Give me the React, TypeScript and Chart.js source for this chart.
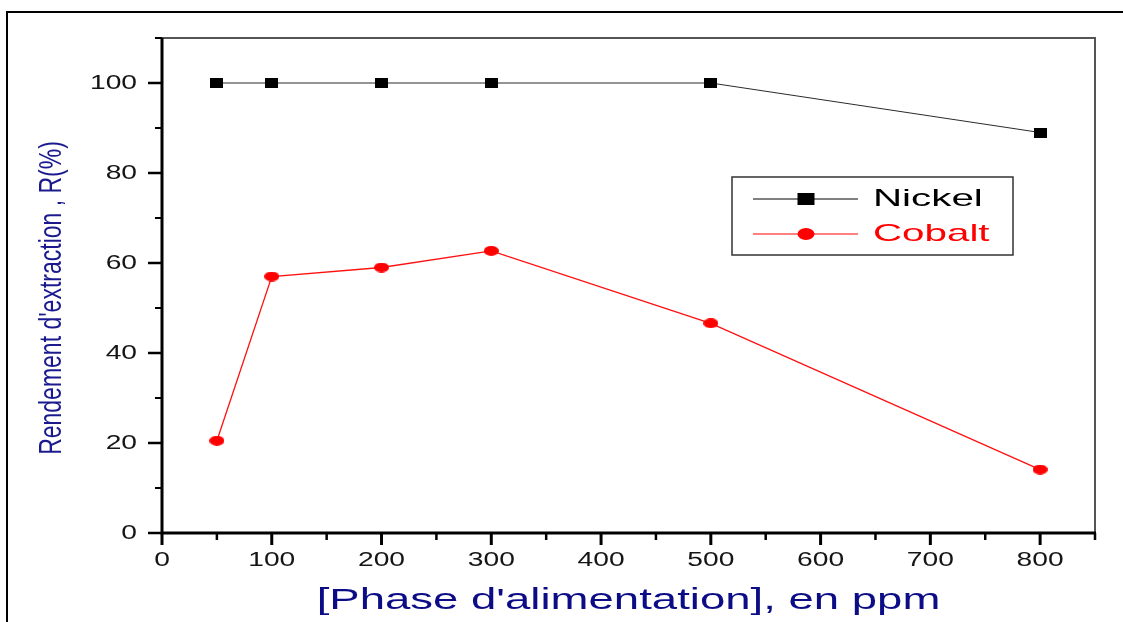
import React, { useEffect, useRef } from "react";
import { Chart, registerables } from "chart.js";

Chart.register(...registerables);

// Feed-phase concentration (ppm) and extraction yield (%) for each metal
const concentrations = [50, 100, 200, 300, 500, 800];
const nickelYield = [100, 100, 100, 100, 100, 89];
const cobaltYield = [20.5, 57, 59, 62.7, 46.6, 14.1];
const seriesNames = ["Nickel", "Cobalt"];
const seriesColors = ["#000000", "#ff0000"];

const xTitle = "[Phase d'alimentation], en ppm";
const yTitle = "Rendement d'extraction , R(%)";

const xMin = 0;
const xMax = 850;
const xMajorStep = 100;
const xMinorStep = 50;
const yMin = 0;
const yMax = 110;
const yMajorStep = 20;
const yMinorStep = 10;

const W = 1123;
const H = 622;

function markerImage(kind: "square" | "dot", w: number, h: number, color: string) {
  const c = document.createElement("canvas");
  c.width = w;
  c.height = h;
  const g = c.getContext("2d")!;
  g.fillStyle = color;
  if (kind === "square") {
    g.fillRect(0, 0, w, h);
  } else {
    g.beginPath();
    g.ellipse(w / 2, h / 2, w / 2, h / 2, 0, 0, Math.PI * 2);
    g.fill();
  }
  return c;
}

// Draw text with a horizontal stretch factor (wide glyphs)
function wideText(
  ctx: CanvasRenderingContext2D,
  text: string,
  x: number,
  y: number,
  font: string,
  sx: number,
  align: CanvasTextAlign,
  color: string
) {
  ctx.save();
  ctx.translate(x, y);
  ctx.scale(sx, 1);
  ctx.font = font;
  ctx.fillStyle = color;
  ctx.textAlign = align;
  ctx.textBaseline = "middle";
  ctx.fillText(text, 0, 0);
  ctx.restore();
}

const FONT = '"Liberation Sans", Arial, sans-serif';
const isMultiple = (v: number, step: number) => Math.abs(v / step - Math.round(v / step)) < 1e-9;

const axesPlugin = {
  id: "originAxes",
  afterDraw(chart: any) {
    const { ctx, chartArea: a, scales } = chart;
    const xs = scales.x;
    const ys = scales.y;
    ctx.save();

    // outer frame (top and left edges)
    ctx.strokeStyle = "#000";
    ctx.lineWidth = 2;
    ctx.beginPath();
    ctx.moveTo(7, H);
    ctx.lineTo(7, 12);
    ctx.lineTo(W, 12);
    ctx.stroke();

    // top / right border of the plot
    ctx.strokeStyle = "#555";
    ctx.lineWidth = 2;
    ctx.beginPath();
    ctx.moveTo(a.left, a.top);
    ctx.lineTo(a.right, a.top);
    ctx.lineTo(a.right, a.bottom);
    ctx.stroke();

    // y ticks
    ctx.strokeStyle = "#000";
    for (let v = yMin; v <= yMax + 1e-9; v += yMinorStep) {
      const py = ys.getPixelForValue(v);
      const major = isMultiple(v, yMajorStep);
      ctx.lineWidth = major ? 2.5 : 2;
      ctx.beginPath();
      ctx.moveTo(a.left, py);
      ctx.lineTo(a.left - (major ? 14 : 7), py);
      ctx.stroke();
    }
    // x ticks
    for (let v = xMin; v <= xMax + 1e-9; v += xMinorStep) {
      const px = xs.getPixelForValue(v);
      const major = isMultiple(v, xMajorStep);
      ctx.lineWidth = major ? 3 : 2.5;
      ctx.beginPath();
      ctx.moveTo(px, a.bottom);
      ctx.lineTo(px, a.bottom + (major ? 12 : 7));
      ctx.stroke();
    }

    // main axis lines
    ctx.lineWidth = 3;
    ctx.beginPath();
    ctx.moveTo(a.left, a.top);
    ctx.lineTo(a.left, a.bottom + 1.5);
    ctx.moveTo(a.left - 1.5, a.bottom);
    ctx.lineTo(a.right + 1, a.bottom);
    ctx.stroke();

    // tick labels (major steps only)
    const tickFont = `20px ${FONT}`;
    ys.ticks
      .filter((t: any) => isMultiple(t.value, yMajorStep))
      .forEach((t: any) => {
        wideText(ctx, String(t.value), a.left - 25, ys.getPixelForValue(t.value), tickFont, 1.41, "right", "#151515");
      });
    xs.ticks
      .filter((t: any) => isMultiple(t.value, xMajorStep))
      .forEach((t: any) => {
        wideText(ctx, String(t.value), xs.getPixelForValue(t.value), a.bottom + 27, tickFont, 1.41, "center", "#151515");
      });

    // axis titles
    wideText(ctx, xTitle, (a.left + a.right) / 2, 601, `29px ${FONT}`, 1.57, "center", "#0c0c86");

    ctx.save();
    ctx.translate(52, 298);
    ctx.rotate(-Math.PI / 2);
    ctx.scale(1, 1.4);
    ctx.font = `23px ${FONT}`;
    ctx.fillStyle = "#1a1a8e";
    ctx.textAlign = "center";
    ctx.textBaseline = "middle";
    ctx.fillText(yTitle, 0, 0);
    ctx.restore();

    // legend
    const bx = 732, by = 177, bw = 281, bh = 78;
    ctx.strokeStyle = "#333";
    ctx.lineWidth = 1.5;
    ctx.strokeRect(bx, by, bw, bh);
    const rows = [199, 234];
    chart.data.datasets.forEach((ds: any, i: number) => {
      const ry = rows[i];
      ctx.strokeStyle = seriesColors[i];
      ctx.lineWidth = 1;
      ctx.beginPath();
      ctx.moveTo(753, ry);
      ctx.lineTo(858, ry);
      ctx.stroke();
      ctx.fillStyle = seriesColors[i];
      if (i === 0) {
        ctx.fillRect(806 - 8.5, ry - 6, 17, 12);
      } else {
        ctx.beginPath();
        ctx.ellipse(806, ry, 8.5, 6, 0, 0, Math.PI * 2);
        ctx.fill();
      }
      wideText(ctx, ds.label, 873, ry, `24px ${FONT}`, 1.68, "left", seriesColors[i]);
    });

    ctx.restore();
  },
};

export default function App() {
  const ref = useRef<HTMLCanvasElement | null>(null);

  useEffect(() => {
    document.body.style.margin = "0";
    const canvas = ref.current;
    if (!canvas) return;

    const nickelMarker = markerImage("square", 13, 10, seriesColors[0]);
    const cobaltMarker = markerImage("dot", 15, 10, seriesColors[1]);

    const chart = new Chart(canvas, {
      type: "line",
      data: {
        datasets: [
          {
            label: seriesNames[0],
            data: concentrations.map((c, i) => ({ x: c, y: nickelYield[i] })),
            borderColor: "#2a2a2a",
            borderWidth: 1,
            pointStyle: nickelMarker as any,
            backgroundColor: seriesColors[0],
            tension: 0,
          },
          {
            label: seriesNames[1],
            data: concentrations.map((c, i) => ({ x: c, y: cobaltYield[i] })),
            borderColor: "#ff1010",
            borderWidth: 1.3,
            pointStyle: cobaltMarker as any,
            backgroundColor: seriesColors[1],
            tension: 0,
          },
        ],
      },
      options: {
        responsive: false,
        animation: false,
        layout: { padding: { top: 38, right: 28, left: 0, bottom: 0 } },
        plugins: {
          legend: { display: false },
          tooltip: { enabled: false },
        },
        scales: {
          x: {
            type: "linear",
            min: xMin,
            max: xMax,
            ticks: { display: false, stepSize: xMajorStep },
            grid: { display: false, drawTicks: false },
            border: { display: false },
            afterFit: (s: any) => {
              s.height = 89;
            },
          },
          y: {
            type: "linear",
            min: yMin,
            max: yMax,
            ticks: { display: false, stepSize: yMajorStep },
            grid: { display: false, drawTicks: false },
            border: { display: false },
            afterFit: (s: any) => {
              s.width = 162;
            },
          },
        },
      },
      plugins: [axesPlugin],
    });

    return () => chart.destroy();
  }, []);

  return (
    <div style={{ width: W, height: H, background: "#fff" }}>
      <canvas ref={ref} width={W} height={H} style={{ display: "block" }} />
    </div>
  );
}
